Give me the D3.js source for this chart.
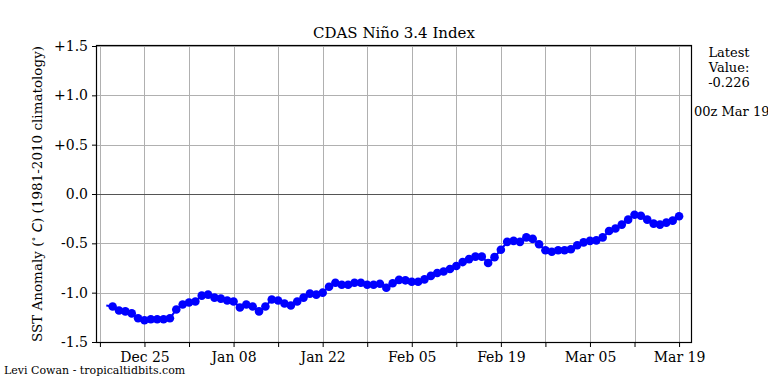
<!DOCTYPE html>
<html>
<head>
<meta charset="utf-8">
<script src="https://cdn.jsdelivr.net/npm/d3@7"></script>
<style>
  body { margin: 0; background: #fff; }
  svg { display: block; }
  text { font-family: "DejaVu Serif", serif; fill: #000; }
</style>
</head>
<body>
<div id="chart-area"></div>
<script>
// Data (daily values, Dec 19 2017 .. Mar 19 2018)
const FIRST_DAY = '2017-12-19';
const LAST_DAY = '2018-03-19';
const values = [
  -1.13, -1.14, -1.18, -1.19, -1.21, -1.26, -1.28, -1.27, -1.27, -1.27,
  -1.26, -1.17, -1.12, -1.10, -1.09, -1.03, -1.02, -1.05, -1.06, -1.08,
  -1.09, -1.15, -1.12, -1.14, -1.19, -1.14, -1.07, -1.08, -1.11, -1.13,
  -1.09, -1.05, -1.01, -1.02, -1.00, -0.94, -0.90, -0.92, -0.92, -0.90,
  -0.90, -0.92, -0.92, -0.91, -0.95, -0.905, -0.87, -0.875, -0.89, -0.89,
  -0.865, -0.83, -0.80, -0.785, -0.76, -0.73, -0.69, -0.66, -0.635, -0.635,
  -0.70, -0.64, -0.565, -0.485, -0.475, -0.485, -0.44, -0.455, -0.51, -0.57,
  -0.585, -0.57, -0.57, -0.56, -0.52, -0.49, -0.475, -0.47, -0.44, -0.375,
  -0.35, -0.31, -0.26, -0.21, -0.22, -0.26, -0.30, -0.31, -0.29, -0.27,
  -0.226
];
const xTickLabels = ['Dec 25', 'Jan 08', 'Jan 22', 'Feb 05', 'Feb 19', 'Mar 05', 'Mar 19'];
const yTicks = [-1.5, -1.0, -0.5, 0.0, 0.5, 1.0, 1.5];
const yTickLabels = ['-1.5', '-1.0', '-0.5', '0.0', '+0.5', '+1.0', '+1.5'];
const LATEST = '-0.226';
const LATEST_TIME = '00z Mar 19';

// Constants
const W = 768, H = 384;
const MARGIN = { LEFT: 97, RIGHT: 77, TOP: 46, BOTTOM: 42 };
const parse = d3.timeParse('%Y-%m-%d');
const fmt = d3.timeFormat('%b %d');

const days = d3.timeDay.range(parse(FIRST_DAY), d3.timeDay.offset(parse(LAST_DAY), 1));
const data = days.map((d, i) => ({ date: d, value: values[i] }));

const svg = d3.select('#chart-area')
    .append('svg')
    .attr('width', W)
    .attr('height', H);

// Scales
const x = d3.scaleTime()
    .domain([new Date(2017, 11, 17, 13), new Date(2018, 2, 20, 21)])
    .range([MARGIN.LEFT, W - MARGIN.RIGHT]);

const y = d3.scaleLinear()
    .domain([-1.5, 1.5])
    .range([H - MARGIN.BOTTOM, MARGIN.TOP]);

// weekly ticks, labels every other week
const weekTicks = d3.timeDay.range(new Date(2017, 11, 18), new Date(2018, 2, 20), 7);

// Grid
svg.append('g')
    .selectAll('line')
    .data(weekTicks)
    .enter().append('line')
    .attr('x1', d => Math.round(x(d)) + 0.5)
    .attr('x2', d => Math.round(x(d)) + 0.5)
    .attr('y1', y(1.5))
    .attr('y2', y(-1.5))
    .attr('stroke', '#b0b0b0')
    .attr('stroke-width', 1);

svg.append('g')
    .selectAll('line')
    .data(yTicks)
    .enter().append('line')
    .attr('x1', x.range()[0])
    .attr('x2', x.range()[1])
    .attr('y1', d => Math.round(y(d)) + 0.5)
    .attr('y2', d => Math.round(y(d)) + 0.5)
    .attr('stroke', d => d === 0 ? '#555' : '#b0b0b0')
    .attr('stroke-width', 1);

// Series
const line = d3.line()
    .x(d => x(d.date))
    .y(d => y(d.value));

svg.append('path')
    .datum(data)
    .attr('d', line)
    .attr('fill', 'none')
    .attr('stroke', '#0000ff')
    .attr('stroke-width', 2);

svg.append('g')
    .selectAll('circle')
    .data(data.slice(1))
    .enter().append('circle')
    .attr('cx', d => x(d.date))
    .attr('cy', d => y(d.value))
    .attr('r', 4.3)
    .attr('fill', '#0000ff');

// Axes
const xAxis = d3.axisBottom(x)
    .tickValues(weekTicks)
    .tickSize(5)
    .tickFormat(d => xTickLabels.includes(fmt(d)) ? fmt(d) : '');

const xg = svg.append('g')
    .attr('transform', `translate(0, ${y(-1.5)})`)
    .call(xAxis);
xg.select('.domain').remove();
xg.selectAll('line').attr('stroke', '#000');
xg.selectAll('text')
    .attr('font-family', '"DejaVu Serif", serif')
    .attr('font-size', 14)
    .attr('y', 7)
    .attr('dy', '0.95em');

const yAxis = d3.axisLeft(y)
    .tickValues(yTicks)
    .tickSize(5)
    .tickFormat((d, i) => yTickLabels[i]);

const yg = svg.append('g')
    .attr('transform', `translate(${x.range()[0]}, 0)`)
    .call(yAxis);
yg.select('.domain').remove();
yg.selectAll('line').attr('stroke', '#000');
yg.selectAll('text')
    .attr('font-family', '"DejaVu Serif", serif')
    .attr('font-size', 14)
    .attr('x', -9);

// Frame
svg.append('rect')
    .attr('x', x.range()[0] - 0.5)
    .attr('y', y(1.5) - 0.5)
    .attr('width', x.range()[1] - x.range()[0] + 1)
    .attr('height', y(-1.5) - y(1.5) + 1)
    .attr('fill', 'none')
    .attr('stroke', '#000')
    .attr('stroke-width', 1.2);

// Title
svg.append('text')
    .attr('x', (x.range()[0] + x.range()[1]) / 2)
    .attr('y', 38)
    .attr('text-anchor', 'middle')
    .attr('font-size', 15)
    .text('CDAS Niño 3.4 Index');

// Y label
const yl = svg.append('text')
    .attr('transform', `translate(42, ${(y(1.5) + y(-1.5)) / 2}) rotate(-90)`)
    .attr('text-anchor', 'middle')
    .attr('font-size', 13.5);
yl.append('tspan').text('SST Anomaly (');
yl.append('tspan').attr('font-size', 10).attr('dy', -5).text('∘');
yl.append('tspan').attr('dy', 5)
    .attr('font-family', '"DejaVu Sans", sans-serif')
    .attr('font-style', 'italic').text(' C');
yl.append('tspan').text(') (1981-2010 climatology)');

// Latest value note
const note = svg.append('text')
    .attr('x', 729)
    .attr('text-anchor', 'middle')
    .attr('font-size', 13);
['Latest', 'Value:', LATEST].forEach((t, i) => {
    note.append('tspan').attr('x', 729).attr('y', 57 + i * 15).text(t);
});
svg.append('text')
    .attr('x', 694)
    .attr('y', 116)
    .attr('font-size', 13)
    .text(LATEST_TIME);

// Credit
svg.append('text')
    .attr('x', 4)
    .attr('y', 374)
    .attr('font-size', 11)
    .text('Levi Cowan - tropicaltidbits.com');
</script>
</body>
</html>
